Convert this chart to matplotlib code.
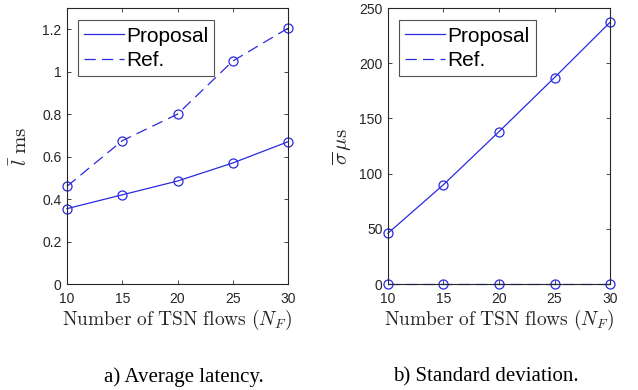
import numpy as np
import matplotlib
matplotlib.use('Agg')
import matplotlib.pyplot as plt

plt.rcParams['mathtext.fontset'] = 'cm'
plt.rcParams['font.family'] = 'Liberation Sans'

# data
n_flows = [10, 15, 20, 25, 30]
lat_proposal = [0.355, 0.42, 0.485, 0.57, 0.67]
lat_ref = [0.46, 0.675, 0.80, 1.05, 1.205]
std_proposal = [46, 90, 138, 187, 237]
std_ref = [0, 0, 0, 0, 0]

blue = '#2a2ae0'
lw = 0.9

fig = plt.figure(figsize=(6.38, 3.90), dpi=100)
W, H = 638., 390.
ax1 = fig.add_axes([67/W, 1-284/H, (288-67)/W, (284-8)/H])
ax2 = fig.add_axes([388/W, 1-284/H, (610-388)/W, (284-8)/H])

def style(ax):
    ax.tick_params(direction='in', top=True, right=True, length=3,
                   width=0.6, labelsize=10, colors='#262626')
    ax.tick_params(axis='x', pad=6)
    ax.tick_params(axis='y', pad=4)
    for s in ax.spines.values():
        s.set_linewidth(0.8)
        s.set_color('#262626')
    ax.set_xlim(10, 30)
    ax.set_xticks(n_flows)
    ax.set_xlabel(r'$\mathrm{Number\ of\ TSN\ flows\ }(N_F)$', fontsize=14,
                  color='#262626', labelpad=1)

ax1.plot(n_flows, lat_proposal, '-o', color=blue, lw=lw, ms=6.5, mfc='none',
         mew=lw, label='Proposal', clip_on=False)
ax1.plot(n_flows, lat_ref, '--o', color=blue, lw=lw, ms=6.5, mfc='none',
         mew=lw, dashes=(9, 5), label='Ref.', clip_on=False)
ax1.set_ylim(0, 1.3)
ax1.set_yticks([0, 0.2, 0.4, 0.6, 0.8, 1, 1.2])
ax1.set_yticklabels(['0', '0.2', '0.4', '0.6', '0.8', '1', '1.2'])
style(ax1)
ax1.set_ylabel(r'$\bar{l}\ \mathrm{ms}$', fontsize=15, color='#262626', labelpad=8)

ax2.plot(n_flows, std_proposal, '-o', color=blue, lw=lw, ms=6.5, mfc='none',
         mew=lw, label='Proposal', clip_on=False)
ax2.plot(n_flows, std_ref, '--o', color=blue, lw=lw, ms=6.5, mfc='none',
         mew=lw, dashes=(9, 5), label='Ref.', clip_on=False)
ax2.set_ylim(0, 250)
ax2.set_yticks([0, 50, 100, 150, 200, 250])
style(ax2)
ax2.set_ylabel(r'$\overline{\sigma}\,\mu\mathrm{s}$', fontsize=15, color='#262626', labelpad=4)

for ax in (ax1, ax2):
    leg = ax.legend(loc='upper left', bbox_to_anchor=(0.05, 0.955), fontsize=15,
                    frameon=True, fancybox=False, edgecolor='#262626',
                    handlelength=1.9, handletextpad=0.1, borderpad=0.3,
                    labelspacing=0.25, borderaxespad=0)
    leg.get_frame().set_linewidth(0.8)
    for h in leg.get_lines():
        h.set_marker('')

fig.text(184/W, 1-377/H, 'a) Average latency.', ha='center', va='center',
         fontsize=15, family='Liberation Serif')
fig.text(486/W, 1-377/H, 'b) Standard deviation.', ha='center', va='center',
         fontsize=15, family='Liberation Serif')

plt.savefig('out.png', dpi=100)
